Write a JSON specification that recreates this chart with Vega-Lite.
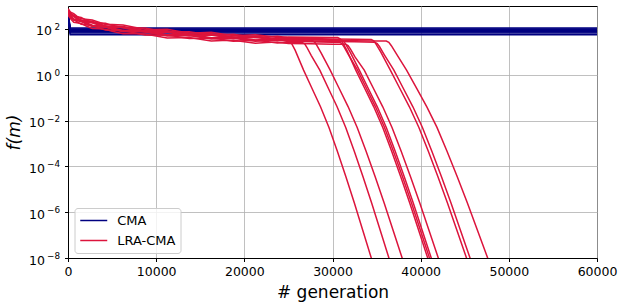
{
  "$schema": "https://vega.github.io/schema/vega-lite/v6.json",
  "width": 529,
  "height": 252,
  "autosize": {"type": "none"},
  "padding": {"left": 68, "top": 6, "right": 27, "bottom": 49},
  "background": "white",
  "config": {
    "font": "DejaVu Sans",
    "view": {"stroke": "black", "strokeWidth": 1},
    "axis": {
      "domainColor": "black", "domainWidth": 1, "tickColor": "black", "tickSize": 3.5, "tickWidth": 1,
      "labelColor": "black", "labelFontSize": 12.5, "labelPadding": 3.5, "labelFont": "DejaVu Sans", "labelFlush": false,
      "gridColor": "#b0b0b0", "gridWidth": 0.8, "titleFont": "DejaVu Sans", "titleFontWeight": "normal", "titleColor": "black"
    }
  },
  "datasets": {
    "runs": [
      {"run":"C1","method":"CMA","gen":0,"f":500},{"run":"C1","method":"CMA","gen":250,"f":110},{"run":"C1","method":"CMA","gen":60000,"f":110},
      {"run":"C2","method":"CMA","gen":0,"f":420},{"run":"C2","method":"CMA","gen":250,"f":100},{"run":"C2","method":"CMA","gen":60000,"f":100},
      {"run":"C3","method":"CMA","gen":0,"f":600},{"run":"C3","method":"CMA","gen":250,"f":95},{"run":"C3","method":"CMA","gen":60000,"f":95},
      {"run":"C4","method":"CMA","gen":0,"f":380},{"run":"C4","method":"CMA","gen":250,"f":88},{"run":"C4","method":"CMA","gen":60000,"f":88},
      {"run":"C5","method":"CMA","gen":0,"f":450},{"run":"C5","method":"CMA","gen":250,"f":80},{"run":"C5","method":"CMA","gen":60000,"f":80},
      {"run":"C6","method":"CMA","gen":0,"f":320},{"run":"C6","method":"CMA","gen":250,"f":73},{"run":"C6","method":"CMA","gen":60000,"f":73},
      {"run":"C7","method":"CMA","gen":0,"f":550},{"run":"C7","method":"CMA","gen":250,"f":66},{"run":"C7","method":"CMA","gen":60000,"f":66},
      {"run":"C8","method":"CMA","gen":0,"f":280},{"run":"C8","method":"CMA","gen":250,"f":55},{"run":"C8","method":"CMA","gen":60000,"f":55},

      {"run":"L1","method":"LRA-CMA","gen":0,"f":715},{"run":"L1","method":"LRA-CMA","gen":150,"f":658},{"run":"L1","method":"LRA-CMA","gen":300,"f":494},{"run":"L1","method":"LRA-CMA","gen":650,"f":351},{"run":"L1","method":"LRA-CMA","gen":1000,"f":338},{"run":"L1","method":"LRA-CMA","gen":1500,"f":315},{"run":"L1","method":"LRA-CMA","gen":2000,"f":247},{"run":"L1","method":"LRA-CMA","gen":2750,"f":187},{"run":"L1","method":"LRA-CMA","gen":3500,"f":182},{"run":"L1","method":"LRA-CMA","gen":4250,"f":176},{"run":"L1","method":"LRA-CMA","gen":5000,"f":143},{"run":"L1","method":"LRA-CMA","gen":6250,"f":112},{"run":"L1","method":"LRA-CMA","gen":7500,"f":110.5},{"run":"L1","method":"LRA-CMA","gen":8750,"f":109},{"run":"L1","method":"LRA-CMA","gen":10000,"f":88.4},{"run":"L1","method":"LRA-CMA","gen":11250,"f":72.5},{"run":"L1","method":"LRA-CMA","gen":12500,"f":74.1},{"run":"L1","method":"LRA-CMA","gen":13750,"f":75.8},{"run":"L1","method":"LRA-CMA","gen":15000,"f":63.7},{"run":"L1","method":"LRA-CMA","gen":16250,"f":53.8},{"run":"L1","method":"LRA-CMA","gen":17500,"f":55.9},{"run":"L1","method":"LRA-CMA","gen":18750,"f":57.9},{"run":"L1","method":"LRA-CMA","gen":20000,"f":49.4},{"run":"L1","method":"LRA-CMA","gen":21250,"f":42.7},{"run":"L1","method":"LRA-CMA","gen":22500,"f":45.5},{"run":"L1","method":"LRA-CMA","gen":23750,"f":47.9},{"run":"L1","method":"LRA-CMA","gen":24800,"f":42},{"run":"L1","method":"LRA-CMA","gen":25040,"f":37},{"run":"L1","method":"LRA-CMA","gen":25280,"f":26.5},{"run":"L1","method":"LRA-CMA","gen":25760,"f":11.8},{"run":"L1","method":"LRA-CMA","gen":26720,"f":1.585},{"run":"L1","method":"LRA-CMA","gen":27680,"f":0.251},{"run":"L1","method":"LRA-CMA","gen":28640,"f":0.0398},{"run":"L1","method":"LRA-CMA","gen":29600,"f":0.00501},{"run":"L1","method":"LRA-CMA","gen":30560,"f":4.47e-4},{"run":"L1","method":"LRA-CMA","gen":31520,"f":3.55e-5},{"run":"L1","method":"LRA-CMA","gen":32480,"f":2.51e-6},{"run":"L1","method":"LRA-CMA","gen":33440,"f":1.58e-7},{"run":"L1","method":"LRA-CMA","gen":34400,"f":1e-8},{"run":"L1","method":"LRA-CMA","gen":34688,"f":4e-9},

      {"run":"L2","method":"LRA-CMA","gen":0,"f":440},{"run":"L2","method":"LRA-CMA","gen":150,"f":331},{"run":"L2","method":"LRA-CMA","gen":300,"f":304},{"run":"L2","method":"LRA-CMA","gen":650,"f":264},{"run":"L2","method":"LRA-CMA","gen":1000,"f":208},{"run":"L2","method":"LRA-CMA","gen":1500,"f":158},{"run":"L2","method":"LRA-CMA","gen":2000,"f":152},{"run":"L2","method":"LRA-CMA","gen":2750,"f":141},{"run":"L2","method":"LRA-CMA","gen":3500,"f":112},{"run":"L2","method":"LRA-CMA","gen":4250,"f":88.6},{"run":"L2","method":"LRA-CMA","gen":5000,"f":88},{"run":"L2","method":"LRA-CMA","gen":6250,"f":84.5},{"run":"L2","method":"LRA-CMA","gen":7500,"f":68},{"run":"L2","method":"LRA-CMA","gen":8750,"f":54.7},{"run":"L2","method":"LRA-CMA","gen":10000,"f":54.4},{"run":"L2","method":"LRA-CMA","gen":11250,"f":54.6},{"run":"L2","method":"LRA-CMA","gen":12500,"f":45.6},{"run":"L2","method":"LRA-CMA","gen":13750,"f":38.2},{"run":"L2","method":"LRA-CMA","gen":15000,"f":39.2},{"run":"L2","method":"LRA-CMA","gen":16250,"f":40.5},{"run":"L2","method":"LRA-CMA","gen":17500,"f":34.4},{"run":"L2","method":"LRA-CMA","gen":18750,"f":29.2},{"run":"L2","method":"LRA-CMA","gen":20000,"f":30.4},{"run":"L2","method":"LRA-CMA","gen":21250,"f":32.1},{"run":"L2","method":"LRA-CMA","gen":22500,"f":28},{"run":"L2","method":"LRA-CMA","gen":23750,"f":24.1},{"run":"L2","method":"LRA-CMA","gen":25000,"f":25.6},{"run":"L2","method":"LRA-CMA","gen":26600,"f":25.1},{"run":"L2","method":"LRA-CMA","gen":26845,"f":22.1},{"run":"L2","method":"LRA-CMA","gen":27090,"f":15.8},{"run":"L2","method":"LRA-CMA","gen":27580,"f":7.0},{"run":"L2","method":"LRA-CMA","gen":28560,"f":1.585},{"run":"L2","method":"LRA-CMA","gen":29540,"f":0.251},{"run":"L2","method":"LRA-CMA","gen":30520,"f":0.0398},{"run":"L2","method":"LRA-CMA","gen":31500,"f":0.00501},{"run":"L2","method":"LRA-CMA","gen":32480,"f":4.47e-4},{"run":"L2","method":"LRA-CMA","gen":33460,"f":3.55e-5},{"run":"L2","method":"LRA-CMA","gen":34440,"f":2.51e-6},{"run":"L2","method":"LRA-CMA","gen":35420,"f":1.58e-7},{"run":"L2","method":"LRA-CMA","gen":36400,"f":1e-8},{"run":"L2","method":"LRA-CMA","gen":36694,"f":4e-9},

      {"run":"L3","method":"LRA-CMA","gen":0,"f":550},{"run":"L3","method":"LRA-CMA","gen":150,"f":506},{"run":"L3","method":"LRA-CMA","gen":300,"f":380},{"run":"L3","method":"LRA-CMA","gen":650,"f":270},{"run":"L3","method":"LRA-CMA","gen":1000,"f":260},{"run":"L3","method":"LRA-CMA","gen":1500,"f":242},{"run":"L3","method":"LRA-CMA","gen":2000,"f":190},{"run":"L3","method":"LRA-CMA","gen":2750,"f":144},{"run":"L3","method":"LRA-CMA","gen":3500,"f":140},{"run":"L3","method":"LRA-CMA","gen":4250,"f":135},{"run":"L3","method":"LRA-CMA","gen":5000,"f":110},{"run":"L3","method":"LRA-CMA","gen":6250,"f":86.4},{"run":"L3","method":"LRA-CMA","gen":7500,"f":85},{"run":"L3","method":"LRA-CMA","gen":8750,"f":83.6},{"run":"L3","method":"LRA-CMA","gen":10000,"f":68},{"run":"L3","method":"LRA-CMA","gen":11250,"f":55.8},{"run":"L3","method":"LRA-CMA","gen":12500,"f":57},{"run":"L3","method":"LRA-CMA","gen":13750,"f":58.3},{"run":"L3","method":"LRA-CMA","gen":15000,"f":49},{"run":"L3","method":"LRA-CMA","gen":16250,"f":41.4},{"run":"L3","method":"LRA-CMA","gen":17500,"f":43},{"run":"L3","method":"LRA-CMA","gen":18750,"f":44.6},{"run":"L3","method":"LRA-CMA","gen":20000,"f":38},{"run":"L3","method":"LRA-CMA","gen":21250,"f":32.9},{"run":"L3","method":"LRA-CMA","gen":22500,"f":35},{"run":"L3","method":"LRA-CMA","gen":23750,"f":36.9},{"run":"L3","method":"LRA-CMA","gen":25000,"f":32},{"run":"L3","method":"LRA-CMA","gen":27700,"f":31},{"run":"L3","method":"LRA-CMA","gen":27955,"f":27.3},{"run":"L3","method":"LRA-CMA","gen":28210,"f":19.5},{"run":"L3","method":"LRA-CMA","gen":28720,"f":8.7},{"run":"L3","method":"LRA-CMA","gen":29740,"f":1.585},{"run":"L3","method":"LRA-CMA","gen":30760,"f":0.251},{"run":"L3","method":"LRA-CMA","gen":31780,"f":0.0398},{"run":"L3","method":"LRA-CMA","gen":32800,"f":0.00501},{"run":"L3","method":"LRA-CMA","gen":33820,"f":4.47e-4},{"run":"L3","method":"LRA-CMA","gen":34840,"f":3.55e-5},{"run":"L3","method":"LRA-CMA","gen":35860,"f":2.51e-6},{"run":"L3","method":"LRA-CMA","gen":36880,"f":1.58e-7},{"run":"L3","method":"LRA-CMA","gen":37900,"f":1e-8},{"run":"L3","method":"LRA-CMA","gen":38206,"f":4e-9},

      {"run":"L4","method":"LRA-CMA","gen":0,"f":770},{"run":"L4","method":"LRA-CMA","gen":150,"f":580},{"run":"L4","method":"LRA-CMA","gen":300,"f":532},{"run":"L4","method":"LRA-CMA","gen":650,"f":462},{"run":"L4","method":"LRA-CMA","gen":1000,"f":364},{"run":"L4","method":"LRA-CMA","gen":1500,"f":277},{"run":"L4","method":"LRA-CMA","gen":2000,"f":266},{"run":"L4","method":"LRA-CMA","gen":2750,"f":246},{"run":"L4","method":"LRA-CMA","gen":3500,"f":196},{"run":"L4","method":"LRA-CMA","gen":4250,"f":155},{"run":"L4","method":"LRA-CMA","gen":5000,"f":154},{"run":"L4","method":"LRA-CMA","gen":6250,"f":148},{"run":"L4","method":"LRA-CMA","gen":7500,"f":119},{"run":"L4","method":"LRA-CMA","gen":8750,"f":95.8},{"run":"L4","method":"LRA-CMA","gen":10000,"f":95.2},{"run":"L4","method":"LRA-CMA","gen":11250,"f":95.5},{"run":"L4","method":"LRA-CMA","gen":12500,"f":79.8},{"run":"L4","method":"LRA-CMA","gen":13750,"f":66.8},{"run":"L4","method":"LRA-CMA","gen":15000,"f":68.6},{"run":"L4","method":"LRA-CMA","gen":16250,"f":70.8},{"run":"L4","method":"LRA-CMA","gen":17500,"f":60.2},{"run":"L4","method":"LRA-CMA","gen":18750,"f":51},{"run":"L4","method":"LRA-CMA","gen":20000,"f":53.2},{"run":"L4","method":"LRA-CMA","gen":21250,"f":56.2},{"run":"L4","method":"LRA-CMA","gen":22500,"f":49},{"run":"L4","method":"LRA-CMA","gen":23750,"f":42.2},{"run":"L4","method":"LRA-CMA","gen":25000,"f":44.8},{"run":"L4","method":"LRA-CMA","gen":27500,"f":43.4},{"run":"L4","method":"LRA-CMA","gen":30000,"f":42},{"run":"L4","method":"LRA-CMA","gen":30600,"f":42},{"run":"L4","method":"LRA-CMA","gen":30855,"f":37},{"run":"L4","method":"LRA-CMA","gen":31110,"f":26.5},{"run":"L4","method":"LRA-CMA","gen":31620,"f":11.8},{"run":"L4","method":"LRA-CMA","gen":32640,"f":1.585},{"run":"L4","method":"LRA-CMA","gen":33660,"f":0.251},{"run":"L4","method":"LRA-CMA","gen":34680,"f":0.0398},{"run":"L4","method":"LRA-CMA","gen":35700,"f":0.00501},{"run":"L4","method":"LRA-CMA","gen":36720,"f":4.47e-4},{"run":"L4","method":"LRA-CMA","gen":37740,"f":3.55e-5},{"run":"L4","method":"LRA-CMA","gen":38760,"f":2.51e-6},{"run":"L4","method":"LRA-CMA","gen":39780,"f":1.58e-7},{"run":"L4","method":"LRA-CMA","gen":40800,"f":1e-8},{"run":"L4","method":"LRA-CMA","gen":41106,"f":4e-9},

      {"run":"L5","method":"LRA-CMA","gen":0,"f":484},{"run":"L5","method":"LRA-CMA","gen":150,"f":445},{"run":"L5","method":"LRA-CMA","gen":300,"f":334},{"run":"L5","method":"LRA-CMA","gen":650,"f":238},{"run":"L5","method":"LRA-CMA","gen":1000,"f":229},{"run":"L5","method":"LRA-CMA","gen":1500,"f":213},{"run":"L5","method":"LRA-CMA","gen":2000,"f":167},{"run":"L5","method":"LRA-CMA","gen":2750,"f":127},{"run":"L5","method":"LRA-CMA","gen":3500,"f":123},{"run":"L5","method":"LRA-CMA","gen":4250,"f":119},{"run":"L5","method":"LRA-CMA","gen":5000,"f":96.8},{"run":"L5","method":"LRA-CMA","gen":6250,"f":76},{"run":"L5","method":"LRA-CMA","gen":7500,"f":74.8},{"run":"L5","method":"LRA-CMA","gen":8750,"f":73.6},{"run":"L5","method":"LRA-CMA","gen":10000,"f":59.8},{"run":"L5","method":"LRA-CMA","gen":11250,"f":49.1},{"run":"L5","method":"LRA-CMA","gen":12500,"f":50.2},{"run":"L5","method":"LRA-CMA","gen":13750,"f":51.3},{"run":"L5","method":"LRA-CMA","gen":15000,"f":43.1},{"run":"L5","method":"LRA-CMA","gen":16250,"f":36.4},{"run":"L5","method":"LRA-CMA","gen":17500,"f":37.8},{"run":"L5","method":"LRA-CMA","gen":18750,"f":39.2},{"run":"L5","method":"LRA-CMA","gen":20000,"f":33.4},{"run":"L5","method":"LRA-CMA","gen":21250,"f":28.9},{"run":"L5","method":"LRA-CMA","gen":22500,"f":30.8},{"run":"L5","method":"LRA-CMA","gen":23750,"f":32.4},{"run":"L5","method":"LRA-CMA","gen":25000,"f":28.2},{"run":"L5","method":"LRA-CMA","gen":27500,"f":27.3},{"run":"L5","method":"LRA-CMA","gen":30000,"f":26.4},{"run":"L5","method":"LRA-CMA","gen":30800,"f":26.3},{"run":"L5","method":"LRA-CMA","gen":31055,"f":23.1},{"run":"L5","method":"LRA-CMA","gen":31310,"f":16.6},{"run":"L5","method":"LRA-CMA","gen":31820,"f":7.4},{"run":"L5","method":"LRA-CMA","gen":32840,"f":1.585},{"run":"L5","method":"LRA-CMA","gen":33860,"f":0.251},{"run":"L5","method":"LRA-CMA","gen":34880,"f":0.0398},{"run":"L5","method":"LRA-CMA","gen":35900,"f":0.00501},{"run":"L5","method":"LRA-CMA","gen":36920,"f":4.47e-4},{"run":"L5","method":"LRA-CMA","gen":37940,"f":3.55e-5},{"run":"L5","method":"LRA-CMA","gen":38960,"f":2.51e-6},{"run":"L5","method":"LRA-CMA","gen":39980,"f":1.58e-7},{"run":"L5","method":"LRA-CMA","gen":41000,"f":1e-8},{"run":"L5","method":"LRA-CMA","gen":41306,"f":4e-9},

      {"run":"L6","method":"LRA-CMA","gen":0,"f":616},{"run":"L6","method":"LRA-CMA","gen":150,"f":464},{"run":"L6","method":"LRA-CMA","gen":300,"f":426},{"run":"L6","method":"LRA-CMA","gen":650,"f":370},{"run":"L6","method":"LRA-CMA","gen":1000,"f":291},{"run":"L6","method":"LRA-CMA","gen":1500,"f":222},{"run":"L6","method":"LRA-CMA","gen":2000,"f":213},{"run":"L6","method":"LRA-CMA","gen":2750,"f":197},{"run":"L6","method":"LRA-CMA","gen":3500,"f":157},{"run":"L6","method":"LRA-CMA","gen":4250,"f":124},{"run":"L6","method":"LRA-CMA","gen":5000,"f":123},{"run":"L6","method":"LRA-CMA","gen":6250,"f":118},{"run":"L6","method":"LRA-CMA","gen":7500,"f":95.2},{"run":"L6","method":"LRA-CMA","gen":8750,"f":76.6},{"run":"L6","method":"LRA-CMA","gen":10000,"f":76.2},{"run":"L6","method":"LRA-CMA","gen":11250,"f":76.4},{"run":"L6","method":"LRA-CMA","gen":12500,"f":63.8},{"run":"L6","method":"LRA-CMA","gen":13750,"f":53.4},{"run":"L6","method":"LRA-CMA","gen":15000,"f":54.9},{"run":"L6","method":"LRA-CMA","gen":16250,"f":56.7},{"run":"L6","method":"LRA-CMA","gen":17500,"f":48.2},{"run":"L6","method":"LRA-CMA","gen":18750,"f":40.8},{"run":"L6","method":"LRA-CMA","gen":20000,"f":42.6},{"run":"L6","method":"LRA-CMA","gen":21250,"f":45},{"run":"L6","method":"LRA-CMA","gen":22500,"f":39.2},{"run":"L6","method":"LRA-CMA","gen":23750,"f":33.8},{"run":"L6","method":"LRA-CMA","gen":25000,"f":35.8},{"run":"L6","method":"LRA-CMA","gen":27500,"f":34.7},{"run":"L6","method":"LRA-CMA","gen":30000,"f":33.6},{"run":"L6","method":"LRA-CMA","gen":31000,"f":33.5},{"run":"L6","method":"LRA-CMA","gen":31255,"f":29.5},{"run":"L6","method":"LRA-CMA","gen":31510,"f":21.1},{"run":"L6","method":"LRA-CMA","gen":32020,"f":9.4},{"run":"L6","method":"LRA-CMA","gen":33040,"f":1.585},{"run":"L6","method":"LRA-CMA","gen":34060,"f":0.251},{"run":"L6","method":"LRA-CMA","gen":35080,"f":0.0398},{"run":"L6","method":"LRA-CMA","gen":36100,"f":0.00501},{"run":"L6","method":"LRA-CMA","gen":37120,"f":4.47e-4},{"run":"L6","method":"LRA-CMA","gen":38140,"f":3.55e-5},{"run":"L6","method":"LRA-CMA","gen":39160,"f":2.51e-6},{"run":"L6","method":"LRA-CMA","gen":40180,"f":1.58e-7},{"run":"L6","method":"LRA-CMA","gen":41200,"f":1e-8},{"run":"L6","method":"LRA-CMA","gen":41506,"f":4e-9},

      {"run":"L7","method":"LRA-CMA","gen":0,"f":396},{"run":"L7","method":"LRA-CMA","gen":150,"f":364},{"run":"L7","method":"LRA-CMA","gen":300,"f":274},{"run":"L7","method":"LRA-CMA","gen":650,"f":194},{"run":"L7","method":"LRA-CMA","gen":1000,"f":187},{"run":"L7","method":"LRA-CMA","gen":1500,"f":174},{"run":"L7","method":"LRA-CMA","gen":2000,"f":137},{"run":"L7","method":"LRA-CMA","gen":2750,"f":104},{"run":"L7","method":"LRA-CMA","gen":3500,"f":101},{"run":"L7","method":"LRA-CMA","gen":4250,"f":97.4},{"run":"L7","method":"LRA-CMA","gen":5000,"f":79.2},{"run":"L7","method":"LRA-CMA","gen":6250,"f":62.2},{"run":"L7","method":"LRA-CMA","gen":7500,"f":61.2},{"run":"L7","method":"LRA-CMA","gen":8750,"f":60.2},{"run":"L7","method":"LRA-CMA","gen":10000,"f":49},{"run":"L7","method":"LRA-CMA","gen":11250,"f":40.2},{"run":"L7","method":"LRA-CMA","gen":12500,"f":41},{"run":"L7","method":"LRA-CMA","gen":13750,"f":42},{"run":"L7","method":"LRA-CMA","gen":15000,"f":35.3},{"run":"L7","method":"LRA-CMA","gen":16250,"f":29.8},{"run":"L7","method":"LRA-CMA","gen":17500,"f":31},{"run":"L7","method":"LRA-CMA","gen":18750,"f":32.1},{"run":"L7","method":"LRA-CMA","gen":20000,"f":27.4},{"run":"L7","method":"LRA-CMA","gen":21250,"f":23.7},{"run":"L7","method":"LRA-CMA","gen":22500,"f":25.2},{"run":"L7","method":"LRA-CMA","gen":23750,"f":26.5},{"run":"L7","method":"LRA-CMA","gen":25000,"f":23},{"run":"L7","method":"LRA-CMA","gen":27500,"f":22.3},{"run":"L7","method":"LRA-CMA","gen":30000,"f":21.6},{"run":"L7","method":"LRA-CMA","gen":31500,"f":21.5},{"run":"L7","method":"LRA-CMA","gen":31763,"f":18.9},{"run":"L7","method":"LRA-CMA","gen":32025,"f":13.5},{"run":"L7","method":"LRA-CMA","gen":32550,"f":6.0},{"run":"L7","method":"LRA-CMA","gen":33600,"f":1.585},{"run":"L7","method":"LRA-CMA","gen":34650,"f":0.251},{"run":"L7","method":"LRA-CMA","gen":35700,"f":0.0398},{"run":"L7","method":"LRA-CMA","gen":36750,"f":0.00501},{"run":"L7","method":"LRA-CMA","gen":37800,"f":4.47e-4},{"run":"L7","method":"LRA-CMA","gen":38850,"f":3.55e-5},{"run":"L7","method":"LRA-CMA","gen":39900,"f":2.51e-6},{"run":"L7","method":"LRA-CMA","gen":40950,"f":1.58e-7},{"run":"L7","method":"LRA-CMA","gen":42000,"f":1e-8},{"run":"L7","method":"LRA-CMA","gen":42315,"f":4e-9},

      {"run":"L8","method":"LRA-CMA","gen":0,"f":671},{"run":"L8","method":"LRA-CMA","gen":150,"f":505},{"run":"L8","method":"LRA-CMA","gen":300,"f":464},{"run":"L8","method":"LRA-CMA","gen":650,"f":403},{"run":"L8","method":"LRA-CMA","gen":1000,"f":317},{"run":"L8","method":"LRA-CMA","gen":1500,"f":241},{"run":"L8","method":"LRA-CMA","gen":2000,"f":232},{"run":"L8","method":"LRA-CMA","gen":2750,"f":215},{"run":"L8","method":"LRA-CMA","gen":3500,"f":171},{"run":"L8","method":"LRA-CMA","gen":4250,"f":135},{"run":"L8","method":"LRA-CMA","gen":5000,"f":134},{"run":"L8","method":"LRA-CMA","gen":6250,"f":129},{"run":"L8","method":"LRA-CMA","gen":7500,"f":104},{"run":"L8","method":"LRA-CMA","gen":8750,"f":83.4},{"run":"L8","method":"LRA-CMA","gen":10000,"f":83},{"run":"L8","method":"LRA-CMA","gen":11250,"f":83.2},{"run":"L8","method":"LRA-CMA","gen":12500,"f":69.5},{"run":"L8","method":"LRA-CMA","gen":13750,"f":58.2},{"run":"L8","method":"LRA-CMA","gen":15000,"f":59.8},{"run":"L8","method":"LRA-CMA","gen":16250,"f":61.7},{"run":"L8","method":"LRA-CMA","gen":17500,"f":52.5},{"run":"L8","method":"LRA-CMA","gen":18750,"f":44.5},{"run":"L8","method":"LRA-CMA","gen":20000,"f":46.4},{"run":"L8","method":"LRA-CMA","gen":21250,"f":49},{"run":"L8","method":"LRA-CMA","gen":22500,"f":42.7},{"run":"L8","method":"LRA-CMA","gen":23750,"f":36.8},{"run":"L8","method":"LRA-CMA","gen":25000,"f":39},{"run":"L8","method":"LRA-CMA","gen":27500,"f":37.8},{"run":"L8","method":"LRA-CMA","gen":30000,"f":36.6},{"run":"L8","method":"LRA-CMA","gen":32500,"f":35.4},{"run":"L8","method":"LRA-CMA","gen":34400,"f":34.5},{"run":"L8","method":"LRA-CMA","gen":34670,"f":30.4},{"run":"L8","method":"LRA-CMA","gen":34940,"f":21.7},{"run":"L8","method":"LRA-CMA","gen":35480,"f":9.7},{"run":"L8","method":"LRA-CMA","gen":36560,"f":1.585},{"run":"L8","method":"LRA-CMA","gen":37640,"f":0.251},{"run":"L8","method":"LRA-CMA","gen":38720,"f":0.0398},{"run":"L8","method":"LRA-CMA","gen":39800,"f":0.00501},{"run":"L8","method":"LRA-CMA","gen":40880,"f":4.47e-4},{"run":"L8","method":"LRA-CMA","gen":41960,"f":3.55e-5},{"run":"L8","method":"LRA-CMA","gen":43040,"f":2.51e-6},{"run":"L8","method":"LRA-CMA","gen":44120,"f":1.58e-7},{"run":"L8","method":"LRA-CMA","gen":45200,"f":1e-8},{"run":"L8","method":"LRA-CMA","gen":45524,"f":4e-9},

      {"run":"L9","method":"LRA-CMA","gen":0,"f":517},{"run":"L9","method":"LRA-CMA","gen":150,"f":476},{"run":"L9","method":"LRA-CMA","gen":300,"f":357},{"run":"L9","method":"LRA-CMA","gen":650,"f":254},{"run":"L9","method":"LRA-CMA","gen":1000,"f":244},{"run":"L9","method":"LRA-CMA","gen":1500,"f":227},{"run":"L9","method":"LRA-CMA","gen":2000,"f":179},{"run":"L9","method":"LRA-CMA","gen":2750,"f":135},{"run":"L9","method":"LRA-CMA","gen":3500,"f":132},{"run":"L9","method":"LRA-CMA","gen":4250,"f":127},{"run":"L9","method":"LRA-CMA","gen":5000,"f":103},{"run":"L9","method":"LRA-CMA","gen":6250,"f":81.2},{"run":"L9","method":"LRA-CMA","gen":7500,"f":80},{"run":"L9","method":"LRA-CMA","gen":8750,"f":78.6},{"run":"L9","method":"LRA-CMA","gen":10000,"f":64},{"run":"L9","method":"LRA-CMA","gen":11250,"f":52.5},{"run":"L9","method":"LRA-CMA","gen":12500,"f":53.6},{"run":"L9","method":"LRA-CMA","gen":13750,"f":54.8},{"run":"L9","method":"LRA-CMA","gen":15000,"f":46.1},{"run":"L9","method":"LRA-CMA","gen":16250,"f":38.9},{"run":"L9","method":"LRA-CMA","gen":17500,"f":40.4},{"run":"L9","method":"LRA-CMA","gen":18750,"f":41.9},{"run":"L9","method":"LRA-CMA","gen":20000,"f":35.7},{"run":"L9","method":"LRA-CMA","gen":21250,"f":30.9},{"run":"L9","method":"LRA-CMA","gen":22500,"f":32.9},{"run":"L9","method":"LRA-CMA","gen":23750,"f":34.6},{"run":"L9","method":"LRA-CMA","gen":25000,"f":30.1},{"run":"L9","method":"LRA-CMA","gen":27500,"f":29.1},{"run":"L9","method":"LRA-CMA","gen":30000,"f":28.2},{"run":"L9","method":"LRA-CMA","gen":32500,"f":27.3},{"run":"L9","method":"LRA-CMA","gen":34800,"f":26.3},{"run":"L9","method":"LRA-CMA","gen":35070,"f":23.1},{"run":"L9","method":"LRA-CMA","gen":35340,"f":16.6},{"run":"L9","method":"LRA-CMA","gen":35880,"f":7.4},{"run":"L9","method":"LRA-CMA","gen":36960,"f":1.585},{"run":"L9","method":"LRA-CMA","gen":38040,"f":0.251},{"run":"L9","method":"LRA-CMA","gen":39120,"f":0.0398},{"run":"L9","method":"LRA-CMA","gen":40200,"f":0.00501},{"run":"L9","method":"LRA-CMA","gen":41280,"f":4.47e-4},{"run":"L9","method":"LRA-CMA","gen":42360,"f":3.55e-5},{"run":"L9","method":"LRA-CMA","gen":43440,"f":2.51e-6},{"run":"L9","method":"LRA-CMA","gen":44520,"f":1.58e-7},{"run":"L9","method":"LRA-CMA","gen":45600,"f":1e-8},{"run":"L9","method":"LRA-CMA","gen":45924,"f":4e-9},

      {"run":"L10","method":"LRA-CMA","gen":0,"f":583},{"run":"L10","method":"LRA-CMA","gen":150,"f":439},{"run":"L10","method":"LRA-CMA","gen":300,"f":403},{"run":"L10","method":"LRA-CMA","gen":650,"f":350},{"run":"L10","method":"LRA-CMA","gen":1000,"f":276},{"run":"L10","method":"LRA-CMA","gen":1500,"f":210},{"run":"L10","method":"LRA-CMA","gen":2000,"f":201},{"run":"L10","method":"LRA-CMA","gen":2750,"f":187},{"run":"L10","method":"LRA-CMA","gen":3500,"f":148},{"run":"L10","method":"LRA-CMA","gen":4250,"f":117},{"run":"L10","method":"LRA-CMA","gen":5000,"f":117},{"run":"L10","method":"LRA-CMA","gen":6250,"f":112},{"run":"L10","method":"LRA-CMA","gen":7500,"f":90.1},{"run":"L10","method":"LRA-CMA","gen":8750,"f":72.5},{"run":"L10","method":"LRA-CMA","gen":10000,"f":72.1},{"run":"L10","method":"LRA-CMA","gen":11250,"f":72.3},{"run":"L10","method":"LRA-CMA","gen":12500,"f":60.4},{"run":"L10","method":"LRA-CMA","gen":13750,"f":50.6},{"run":"L10","method":"LRA-CMA","gen":15000,"f":51.9},{"run":"L10","method":"LRA-CMA","gen":16250,"f":53.7},{"run":"L10","method":"LRA-CMA","gen":17500,"f":45.6},{"run":"L10","method":"LRA-CMA","gen":18750,"f":38.6},{"run":"L10","method":"LRA-CMA","gen":20000,"f":40.3},{"run":"L10","method":"LRA-CMA","gen":21250,"f":42.6},{"run":"L10","method":"LRA-CMA","gen":22500,"f":37.1},{"run":"L10","method":"LRA-CMA","gen":23750,"f":32},{"run":"L10","method":"LRA-CMA","gen":25000,"f":33.9},{"run":"L10","method":"LRA-CMA","gen":27500,"f":32.9},{"run":"L10","method":"LRA-CMA","gen":30000,"f":31.8},{"run":"L10","method":"LRA-CMA","gen":32500,"f":30.7},{"run":"L10","method":"LRA-CMA","gen":35000,"f":29.7},{"run":"L10","method":"LRA-CMA","gen":36100,"f":29.4},{"run":"L10","method":"LRA-CMA","gen":36388,"f":25.9},{"run":"L10","method":"LRA-CMA","gen":36675,"f":18.5},{"run":"L10","method":"LRA-CMA","gen":37250,"f":8.2},{"run":"L10","method":"LRA-CMA","gen":38400,"f":1.585},{"run":"L10","method":"LRA-CMA","gen":39550,"f":0.251},{"run":"L10","method":"LRA-CMA","gen":40700,"f":0.0398},{"run":"L10","method":"LRA-CMA","gen":41850,"f":0.00501},{"run":"L10","method":"LRA-CMA","gen":43000,"f":4.47e-4},{"run":"L10","method":"LRA-CMA","gen":44150,"f":3.55e-5},{"run":"L10","method":"LRA-CMA","gen":45300,"f":2.51e-6},{"run":"L10","method":"LRA-CMA","gen":46450,"f":1.58e-7},{"run":"L10","method":"LRA-CMA","gen":47600,"f":1e-8},{"run":"L10","method":"LRA-CMA","gen":47945,"f":4e-9}
    ]
  },
  "data": {"name": "runs"},
  "encoding": {
    "x": {
      "field": "gen", "type": "quantitative",
      "scale": {"domain": [0, 60000], "nice": false, "zero": false},
      "axis": {"values": [0, 10000, 20000, 30000, 40000, 50000, 60000], "format": "d", "labelFlush": false, "title": "# generation", "titleFontSize": 17, "titleY": 34, "titleBaseline": "middle", "grid": true}
    },
    "detail": {"field": "run"},
    "color": {
      "field": "method", "type": "nominal",
      "scale": {"domain": ["CMA", "LRA-CMA"], "range": ["#000080", "#DC143C"]},
      "legend": {
        "title": null, "orient": "none", "legendX": 6.5, "legendY": 202,
        "fillColor": "rgba(255,255,255,0.8)", "strokeColor": "#cccccc", "cornerRadius": 3, "padding": 5,
        "symbolType": "M-1,0H3", "symbolSize": 182, "symbolStrokeWidth": 1.5,
        "labelFontSize": 13, "labelFont": "DejaVu Sans", "labelColor": "black", "labelOffset": 22.75, "rowPadding": 5
      }
    }
  },
  "layer": [
    {
      "transform": [{"filter": "datum.method == 'CMA'"}],
      "mark": {"type": "line", "clip": true, "strokeWidth": 1.5},
      "encoding": {
        "y": {
          "field": "f", "type": "quantitative",
          "scale": {"type": "log", "domain": [1e-8, 1000], "nice": false},
          "axis": {
            "values": [1e-8, 1e-6, 1e-4, 0.01, 1, 100],
            "labelExpr": "'10'",
            "labelAlign": "right",
            "labelFlush": false,
            "labelPadding": {"condition": {"test": "datum.value < 0.5", "value": 20}, "value": 13},
            "labelOffset": 2,
            "title": "f(m)", "titleFontSize": 17, "titleFontStyle": "italic", "titleX": -54, "titleY": 126, "titleAngle": -90, "titleAlign": "center", "titleBaseline": "middle", "grid": true
          }
        }
      }
    },
    {
      "transform": [{"filter": "datum.method == 'LRA-CMA'"}],
      "mark": {"type": "line", "clip": true, "strokeWidth": 1.5},
      "encoding": {
        "y": {
          "field": "f", "type": "quantitative",
          "scale": {"type": "log", "domain": [1e-8, 1000], "nice": false},
          "axis": {
            "orient": "left",
            "values": [1e-8, 1e-6, 1e-4, 0.01, 1, 100],
            "labelExpr": "replace('' + round(log(datum.value)/LN10), '-', '−')",
            "labelAlign": "right",
            "labelFlush": false,
            "labelFontSize": 8.8,
            "labelPadding": 8.5,
            "labelOffset": -2.5,
            "tickSize": 0, "ticks": false, "domain": false, "grid": false, "title": null
          }
        }
      }
    }
  ],
  "resolve": {"axis": {"y": "independent"}}
}
